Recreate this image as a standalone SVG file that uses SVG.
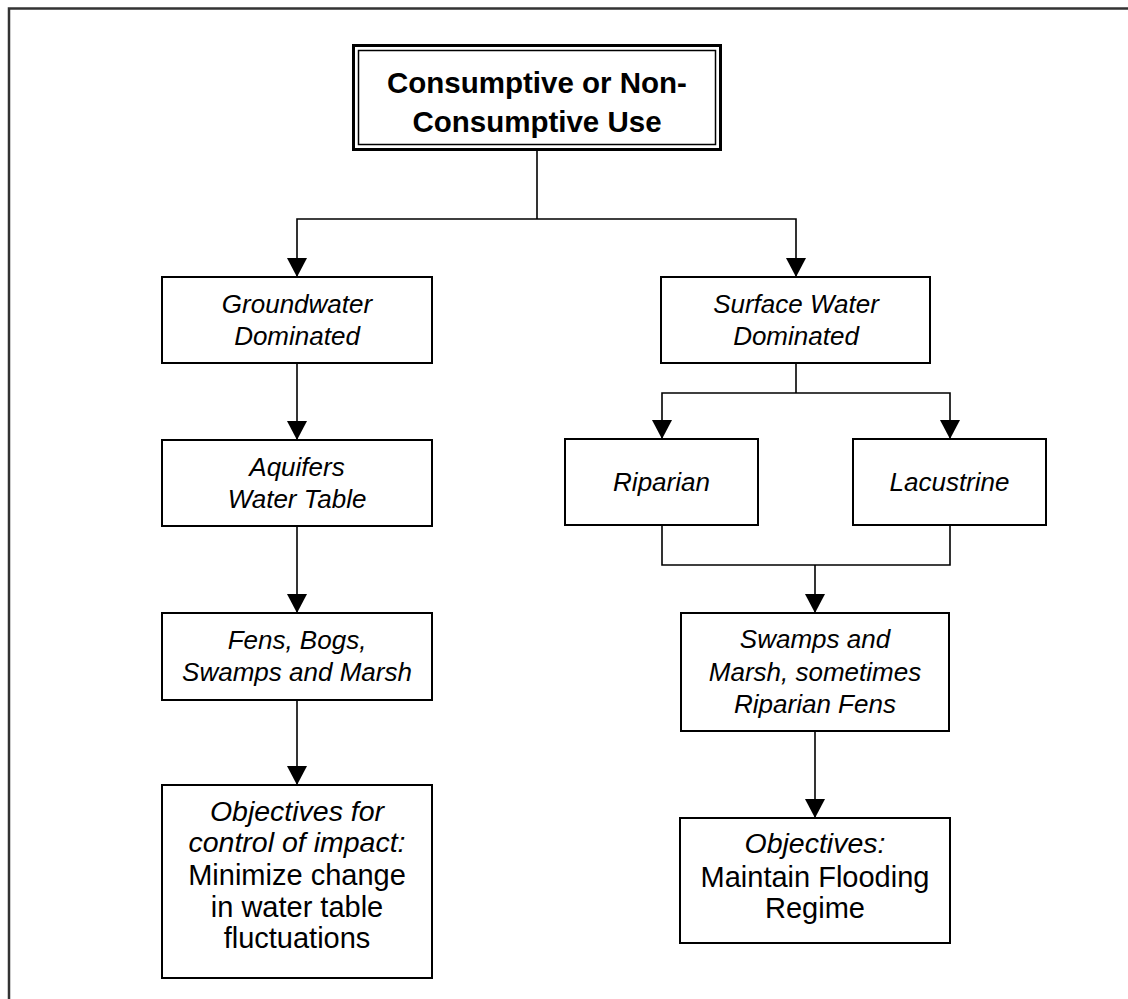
<svg xmlns="http://www.w3.org/2000/svg" width="1128" height="999" viewBox="0 0 1128 999">
<defs>
<marker id="arr" markerUnits="userSpaceOnUse" markerWidth="20" markerHeight="20" refX="19" refY="10" orient="auto" viewBox="0 0 20 20">
<path d="M0,0 L19,10 L0,20 z" fill="#000"/>
</marker>
<style>
.box{fill:#fff;stroke:#000;stroke-width:2}
.c{fill:none;stroke:#000;stroke-width:1.6}
.a{marker-end:url(#arr)}
.t{font-family:"Liberation Sans",Arial,sans-serif;font-size:26px;text-anchor:middle;fill:#000}
.i{font-style:italic}
.o{font-size:28.5px}
.r{font-size:29px}
.b{font-weight:bold;font-size:29.5px}
</style>
</defs>
<rect width="1128" height="999" fill="#fff"/>
<path d="M9,999 V8.5 H1128" fill="none" stroke="#333" stroke-width="2.5"/>
<g id="connectors">
<path class="c" d="M537,150 V219"/>
<path class="c a" d="M537,219 H297 V277"/>
<path class="c a" d="M537,219 H796 V277"/>
<path class="c a" d="M297,363 V440"/>
<path class="c a" d="M297,526 V613"/>
<path class="c a" d="M297,700 V785"/>
<path class="c" d="M796,363 V393"/>
<path class="c a" d="M796,393 H662 V439"/>
<path class="c a" d="M796,393 H950 V439"/>
<path class="c" d="M662,525 V565 H950 V525"/>
<path class="c a" d="M815,565 V613"/>
<path class="c a" d="M815,731 V818"/>
</g>
<g id="n-top">
<rect x="353.5" y="45.5" width="367" height="104" fill="#fff" stroke="#000" stroke-width="3"/>
<rect x="358.5" y="50.5" width="357" height="94" fill="none" stroke="#000" stroke-width="1.5"/>
<text class="t b" x="537" y="93">Consumptive or Non-</text>
<text class="t b" x="537" y="132">Consumptive Use</text>
</g>
<g id="n-ground">
<rect class="box" x="162" y="277" width="270" height="86"/>
<text class="t i" x="297" y="313">Groundwater</text>
<text class="t i" x="297" y="345">Dominated</text>
</g>
<g id="n-aquifers">
<rect class="box" x="162" y="440" width="270" height="86"/>
<text class="t i" x="297" y="476">Aquifers</text>
<text class="t i" x="297" y="508">Water Table</text>
</g>
<g id="n-fens">
<rect class="box" x="162" y="613" width="270" height="87"/>
<text class="t i" x="297" y="649">Fens, Bogs,</text>
<text class="t i" x="297" y="681">Swamps and Marsh</text>
</g>
<g id="n-obj-left">
<rect class="box" x="162" y="785" width="270" height="193"/>
<text class="t i o" x="297" y="821">Objectives for</text>
<text class="t i o" x="297" y="852">control of impact:</text>
<text class="t r" x="297" y="885">Minimize change</text>
<text class="t r" x="297" y="917">in water table</text>
<text class="t r" x="297" y="948">fluctuations</text>
</g>
<g id="n-surface">
<rect class="box" x="661" y="277" width="269" height="86"/>
<text class="t i" x="796" y="313">Surface Water</text>
<text class="t i" x="796" y="345">Dominated</text>
</g>
<g id="n-riparian">
<rect class="box" x="565" y="439" width="193" height="86"/>
<text class="t i" x="661.5" y="491">Riparian</text>
</g>
<g id="n-lacustrine">
<rect class="box" x="853" y="439" width="193" height="86"/>
<text class="t i" x="949.5" y="491">Lacustrine</text>
</g>
<g id="n-swamps">
<rect class="box" x="681" y="613" width="268" height="118"/>
<text class="t i" x="815" y="648">Swamps and</text>
<text class="t i" x="815" y="681">Marsh, sometimes</text>
<text class="t i" x="815" y="713">Riparian Fens</text>
</g>
<g id="n-obj-right">
<rect class="box" x="680" y="818" width="270" height="125"/>
<text class="t i o" x="815" y="853">Objectives:</text>
<text class="t r" x="815" y="887">Maintain Flooding</text>
<text class="t r" x="815" y="918">Regime</text>
</g>
</svg>
